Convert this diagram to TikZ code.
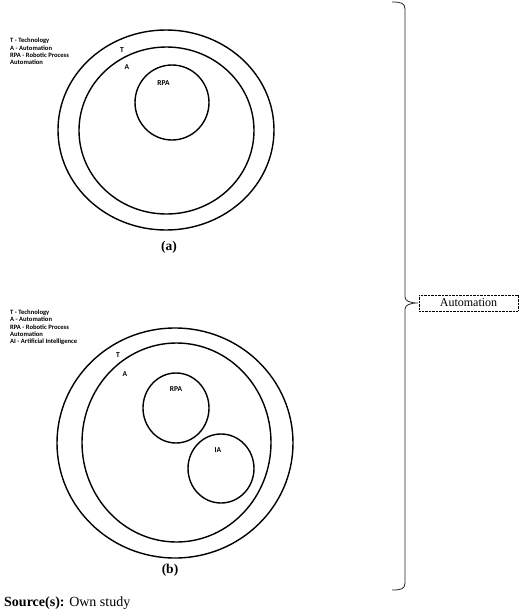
\documentclass[tikz,border=0pt]{standalone}
\usepackage{fontspec}
\setmainfont{Liberation Serif}
\newfontfamily\calib{Carlito}
\usetikzlibrary{shapes.geometric}

\begin{document}
\begin{tikzpicture}[x=1pt,y=-1pt,
    ring/.style = {draw, ellipse, line width=1.4pt, inner sep=0pt},
    tag/.style = {font=\calib\bfseries\fontsize{7.5}{9}\selectfont, inner sep=0pt},
    legend/.style = {anchor=base west, align=left, inner sep=0pt, font=\calib\bfseries\fontsize{6.6}{7.2}\selectfont},
    box/.style = {draw, line width=0.7pt, dash pattern=on 0.8pt off 0.6pt, minimum width=99, minimum height=16, inner sep=0pt, font=\fontsize{12}{14}\selectfont}]
    \useasboundingbox (0,0) rectangle (520,611);
    % (a)
    \node[ring, minimum width=216, minimum height=200] (T1) at (166,130) {};
    \node[ring, minimum width=175, minimum height=167] (A1) at (166.5,130.5) {};
    \node[ring, minimum width=74, minimum height=75] (R1) at (172,102.5) {};
    \node[tag] (t1) at (122,50) {T};
    \node[tag] (a1) at (127,67) {A};
    \node[tag] (r1) at (163.5,83) {RPA};
    \node[legend] (leg1) at (10,64.5) {T - Technology\\A - Automation\\RPA - Robotic Process\\Automation};
    \node[font=\bfseries\fontsize{13.5}{16}\selectfont] (capa) at (169,247) {(a)};
    % (b)
    \node[ring, minimum width=236, minimum height=230] (T2) at (175,443) {};
    \node[ring, minimum width=189, minimum height=199] (A2) at (176.5,442.5) {};
    \node[ring, minimum width=66, minimum height=70] (R2) at (176,408) {};
    \node[ring, minimum width=66, minimum height=69] (I2) at (221,468.5) {};
    \node[tag] (t2) at (118,355) {T};
    \node[tag] (a2) at (125,374) {A};
    \node[tag] (r2) at (176,389) {RPA};
    \node[tag] (i2) at (218,450) {IA};
    \node[legend] (leg2) at (10,343.5) {T - Technology\\A - Automation\\RPA - Robotic Process\\Automation\\AI - Artificial Intelligence};
    \node[font=\bfseries\fontsize{13.5}{16}\selectfont] (capb) at (170,570) {(b)};
    % brace
    \node[box] (auto) at (468.5,303) {Automation};
    \coordinate (braceTop) at (392,2);
    \coordinate (braceTip) at (418,303);
    \coordinate (braceBot) at (392,590);
    \draw[line width=0.8pt, black!85]
        (braceTop) .. controls (401,2) and (405,3) .. (405,9) -- (405,297)
        .. controls (405,301) and (410,303) .. (braceTip)
        .. controls (410,303) and (405,305) .. (405,309) -- (405,583)
        .. controls (405,589) and (401,590) .. (braceBot);
    \node[anchor=base west, inner sep=0pt, font=\fontsize{14}{16}\selectfont] (src) at (4,606) {\textbf{Source(s):} Own study};
\end{tikzpicture}
\end{document}
